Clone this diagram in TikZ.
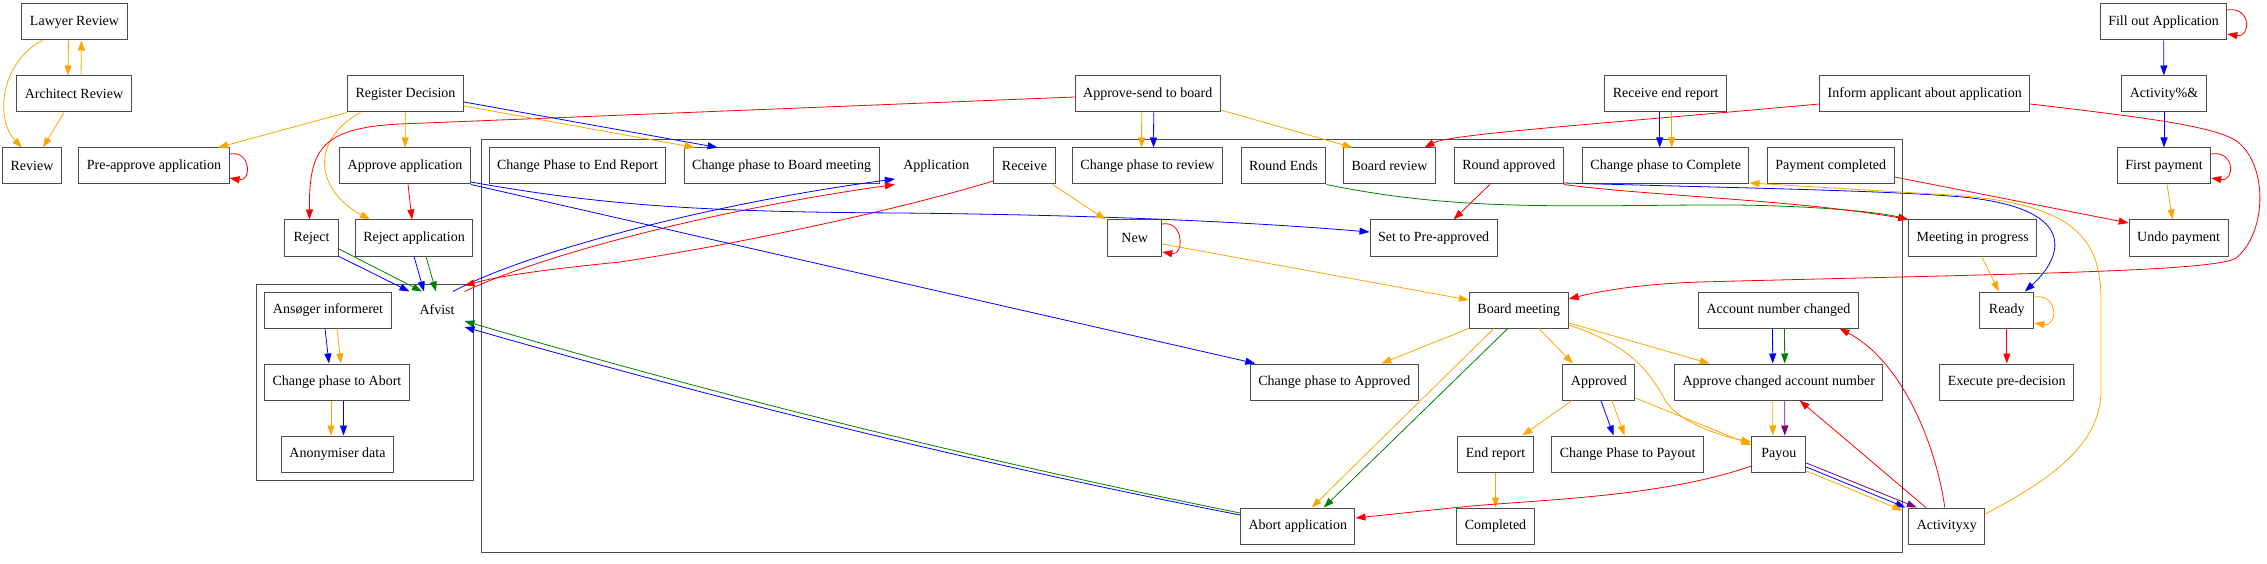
\documentclass[tikz,border=0pt]{standalone}
\usepackage{fontspec}
\setmainfont{Liberation Serif}
\usetikzlibrary{arrows.meta}
\definecolor{gvorange}{RGB}{255,165,0}
\definecolor{gvgreen}{RGB}{0,128,0}
\definecolor{gvpurple}{RGB}{128,0,128}
\begin{document}
\begin{tikzpicture}[x=1pt,y=-1pt,
  box/.style={draw=black!70,line width=1pt,rectangle,minimum height=36pt,minimum width=54pt,inner xsep=8pt,inner ysep=0pt,font=\fontsize{14}{16}\selectfont},
  textonly/.style={box,draw=none},
  link/.style={-{Triangle[length=10pt,width=7pt]},line width=0.8pt},
  cluster/.style={draw=black!70,line width=1pt}]
\useasboundingbox (0,0) rectangle (2267,564);

\draw[cluster] (256,284) rectangle (473,480);
\draw[cluster] (481,140) rectangle (1902,552);

\node[box] (lawyer) at (74.5,22) {Lawyer Review};
\node[box] (architect) at (74,94) {Architect Review};
\node[box] (review) at (32,166) {Review};
\node[box] (preappr) at (154,166) {Pre-approve application};
\node[box] (regdec) at (405.5,94) {Register Decision};
\node[box] (apprapp) at (405,166) {Approve application};
\node[box] (reject) at (311.5,238) {Reject};
\node[box] (rejapp) at (414,238) {Reject application};
\node[box] (ansoger) at (328,310) {Ansøger informeret};
\node[textonly] (afvist) at (437,310) {Afvist};
\node[box] (chabort) at (337,382) {Change phase to Abort};
\node[box] (anonym) at (337.5,454) {Anonymiser data};

\node[box] (apprsend) at (1147.7,94) {Approve-send to board};
\node[box] (recendrep) at (1665.7,94) {Receive end report};
\node[box] (inform) at (1924.7,94) {Inform applicant about application};
\node[box] (fillout) at (2163.5,22) {Fill out Application};
\node[box] (activity) at (2164,94) {Activity\%\&};
\node[box] (firstpay) at (2164,166) {First payment};
\node[box] (undopay) at (2178.6,238) {Undo payment};
\node[box] (meeting) at (1972.7,238) {Meeting in progress};
\node[box] (ready) at (2006.8,310) {Ready};
\node[box] (execpre) at (2006.8,382) {Execute pre-decision};
\node[box] (activityxy) at (1946.8,526) {Activityxy};

\node[box] (chendrep) at (577.5,166) {Change Phase to End Report};
\node[box] (chboard) at (781.6,166) {Change phase to Board meeting};
\node[textonly] (application) at (936.4,166) {Application};
\node[box] (receive) at (1024.5,166) {Receive};
\node[box] (chreview) at (1147.5,166) {Change phase to review};
\node[box] (roundends) at (1283.5,166) {Round Ends};
\node[box] (boardrev) at (1389.5,166) {Board review};
\node[box] (roundappr) at (1508.8,166) {Round approved};
\node[box] (chcomplete) at (1665.7,166) {Change phase to Complete};
\node[box] (paycompl) at (1830.7,166) {Payment completed};
\node[box] (new) at (1134.7,238) {New};
\node[box] (setpre) at (1433.6,238) {Set to Pre-approved};
\node[box] (boardmeet) at (1518.8,310) {Board meeting};
\node[box] (accchanged) at (1778.5,310) {Account number changed};
\node[box] (chapproved) at (1334.4,382) {Change phase to Approved};
\node[box] (approved) at (1598.9,382) {Approved};
\node[box] (apprchacc) at (1778.7,382) {Approve changed account number};
\node[box] (endrep) at (1495.5,454) {End report};
\node[box] (chpayout) at (1627.6,454) {Change Phase to Payout};
\node[box] (payou) at (1778.8,454) {Payou};
\node[box] (abortapp) at (1297.8,526) {Abort application};
\node[box] (completed) at (1495.5,526) {Completed};

\draw[link,gvorange] ([xshift=-32pt]lawyer.south) .. controls (0,62) and (-5,120) .. ([xshift=-10pt]review.north);
\draw[link,gvorange] ([xshift=-6pt]lawyer.south) -- ([xshift=-6pt]architect.north);
\draw[link,gvorange] ([xshift=7pt]architect.north) -- ([xshift=7pt]lawyer.south);
\draw[link,gvorange] ([xshift=-10pt]architect.south) -- ([xshift=11pt]review.north);
\draw[link,gvorange] (regdec.south west) -- ([xshift=64pt]preappr.north);
\draw[link,red] ([yshift=12pt]preappr.east) .. controls +(22,-4) and +(22,4) .. ([yshift=-12pt]preappr.east);
\draw[link,gvorange] ([xshift=-45pt]regdec.south) .. controls (310,140) and (315,190) .. ([xshift=-44pt]rejapp.north);
\draw[link,gvorange] (regdec) -- (apprapp);
\draw[link,red] ([yshift=-3pt]apprsend.west) -- (400,124) .. controls (320,128) and (309,150) .. ([xshift=-2pt]reject.north);
\draw[link,red] ([xshift=3pt]apprapp.south) -- ([xshift=-2pt]rejapp.north);
\draw[link,blue] ([yshift=-8pt]regdec.east) -- ([xshift=-64pt]chboard.north);
\draw[link,gvorange] ([yshift=-12pt]regdec.east) -- ([xshift=-87pt]chboard.north);
\draw[link,blue] (reject.south east) -- (afvist.north west);
\draw[link,gvgreen] ([yshift=-11pt]reject.east) -- ([xshift=-15pt]afvist.north);
\draw[link,blue] (rejapp.south) -- ([xshift=-13pt]afvist.north);
\draw[link,gvgreen] ([xshift=12pt]rejapp.south) -- ([xshift=-1pt]afvist.north);
\draw[link,blue] ([xshift=-3pt]ansoger.south) -- ([xshift=-8pt]chabort.north);
\draw[link,gvorange] ([xshift=9pt]ansoger.south) -- ([xshift=4pt]chabort.north);
\draw[link,gvorange] ([xshift=-6pt]chabort.south) -- ([xshift=-6.5pt]anonym.north);
\draw[link,blue] ([xshift=6.5pt]chabort.south) -- ([xshift=6pt]anonym.north);

\draw[link,blue] ([xshift=16pt]afvist.north) .. controls (520,255) and (700,205) .. ([yshift=-13pt]application.west);
\draw[link,red] (afvist.north east) .. controls (535,258) and (700,212) .. (application.south west);
\draw[link,red] ([yshift=-15pt]receive.west) .. controls (880,215) and (720,247) .. (620,262) .. controls (540,270) and (500,276) .. ([yshift=6pt]afvist.north east);
\draw[link,blue] ([yshift=-16pt]apprapp.east) .. controls (600,205) and (700,212) .. (900,213) .. controls (1100,215) and (1250,222) .. ([yshift=6pt]setpre.west);
\draw[link,blue] (apprapp.south east) -- ([xshift=-79pt]chapproved.north);
\draw[link,gvgreen] ([yshift=13pt]abortapp.west) .. controls (982,461) and (723,397) .. ([yshift=-11pt]afvist.east);
\draw[link,blue] ([yshift=11pt]abortapp.west) .. controls (982,465) and (723,401) .. ([yshift=-17pt]afvist.east);

\draw[link,gvorange] ([xshift=28pt]receive.south) -- ([xshift=-29pt]new.north);
\draw[link,red] ([yshift=14pt]new.east) .. controls +(22,-4) and +(22,4) .. ([yshift=-14pt]new.east);
\draw[link,gvorange] ([yshift=-6pt]new.east) -- ([yshift=10pt]boardmeet.west);
\draw[link,gvorange] ([xshift=-6pt]apprsend.south) -- ([xshift=-6pt]chreview.north);
\draw[link,blue] ([xshift=6pt]apprsend.south) -- ([xshift=6pt]chreview.north);
\draw[link,gvorange] ([yshift=-16pt]apprsend.east) -- ([xshift=-37pt]boardrev.north);
\draw[link,red] ([yshift=-10pt]inform.west) .. controls (1600,124) and (1450,134) .. ([xshift=35pt]boardrev.north);
\draw[link,gvgreen] (roundends.south east) .. controls (1450,210) and (1550,206) .. (1700,205) .. controls (1800,204) and (1880,212) .. (meeting.north west);
\draw[link,red] ([xshift=-19pt]roundappr.south) -- ([xshift=20pt]setpre.north);
\draw[link,red] (roundappr.south east) .. controls (1650,196) and (1800,200) .. (meeting.north west);
\draw[link,blue] ([yshift=-17pt]roundappr.east) .. controls (1700,187) and (1870,190) .. (1950,196) .. controls (2080,205) and (2065,255) .. ([xshift=18pt]ready.north);
\draw[link,blue] ([xshift=-6pt]recendrep.south) -- ([xshift=-6pt]chcomplete.north);
\draw[link,gvorange] ([xshift=6pt]recendrep.south) -- ([xshift=6pt]chcomplete.north);
\draw[link,red] ([yshift=-11pt]paycompl.east) -- ([yshift=15pt]undopay.west);
\draw[link,gvorange] ([yshift=12pt]activityxy.east) .. controls (2060,475) and (2101,440) .. (2101,390) -- (2101,300) .. controls (2101,235) and (2070,203) .. (1950,195) -- ([yshift=-17pt]chcomplete.east);
\draw[link,red] ([yshift=-10pt]inform.east) .. controls (2150,118) and (2210,126) .. (2235,140) .. controls (2268,162) and (2268,232) .. (2236,258) .. controls (2215,272) and (2000,274) .. (1700,282) .. controls (1640,284) and (1600,291) .. ([yshift=11pt]boardmeet.east);

\draw[link,red] ([yshift=12pt]fillout.east) .. controls +(24,-4) and +(24,4) .. ([yshift=-12pt]fillout.east);
\draw[link,blue] (fillout) -- (activity);
\draw[link,blue] (activity) -- (firstpay);
\draw[link,red] ([yshift=12pt]firstpay.east) .. controls +(24,-4) and +(24,4) .. ([yshift=-12pt]firstpay.east);
\draw[link,gvorange] ([xshift=3pt]firstpay.south) -- ([xshift=-6pt]undopay.north);
\draw[link,gvorange] ([xshift=9pt]meeting.south) -- ([xshift=-8pt]ready.north);
\draw[link,gvorange] ([yshift=13pt]ready.east) .. controls +(24,-4) and +(24,4) .. ([yshift=-13pt]ready.east);
\draw[link,red] (ready) -- (execpre);

\draw[link,gvorange] (boardmeet.south west) -- ([xshift=47pt]chapproved.north);
\draw[link,gvorange] ([xshift=-25pt]boardmeet.south) -- ([xshift=14pt]abortapp.north);
\draw[link,gvgreen] ([xshift=-11pt]boardmeet.south) -- ([xshift=26pt]abortapp.north);
\draw[link,gvorange] ([xshift=20pt]boardmeet.south) -- ([xshift=-26pt]approved.north);
\draw[link,gvorange] ([yshift=-13pt]boardmeet.east) -- ([xshift=-69pt]apprchacc.north);
\draw[link,gvorange] ([yshift=-15pt]boardmeet.east) .. controls (1630,345) and (1650,372) .. (1665,400) .. controls (1678,422) and (1720,436) .. ([yshift=12pt]payou.west);
\draw[link,gvorange] ([yshift=-16pt]approved.east) -- ([yshift=9pt]payou.west);
\draw[link,gvorange] ([xshift=-27pt]approved.south) -- ([xshift=27pt]endrep.north);
\draw[link,blue] ([xshift=2pt]approved.south) -- ([xshift=-14pt]chpayout.north);
\draw[link,gvorange] ([xshift=13pt]approved.south) -- ([xshift=-3pt]chpayout.north);
\draw[link,gvorange] (endrep) -- (completed);
\draw[link,blue] ([xshift=-6pt]accchanged.south) -- ([xshift=-6pt]apprchacc.north);
\draw[link,gvgreen] ([xshift=6pt]accchanged.south) -- ([xshift=6pt]apprchacc.north);
\draw[link,gvorange] ([xshift=-6pt]apprchacc.south) -- ([xshift=-6pt]payou.north);
\draw[link,gvpurple] ([xshift=6pt]apprchacc.south) -- ([xshift=6pt]payou.north);
\draw[link,gvpurple] ([yshift=-9pt]payou.east) -- ([xshift=-30pt]activityxy.north);
\draw[link,blue] ([yshift=-13pt]payou.east) -- ([xshift=-3pt]activityxy.north west);
\draw[link,gvorange] ([yshift=-17pt]payou.east) -- ([xshift=-6pt,yshift=-3pt]activityxy.north west);
\draw[link,red] ([xshift=-21pt]activityxy.north) -- ([xshift=21pt]apprchacc.south);
\draw[link,red] ([xshift=-2pt]activityxy.north) .. controls (1935,440) and (1900,360) .. ([xshift=61pt]accchanged.south);
\draw[link,red] ([yshift=-12pt]payou.west) .. controls (1660,498) and (1530,500) .. (1461,507) -- ([yshift=8pt]abortapp.east);
\end{tikzpicture}
\end{document}
